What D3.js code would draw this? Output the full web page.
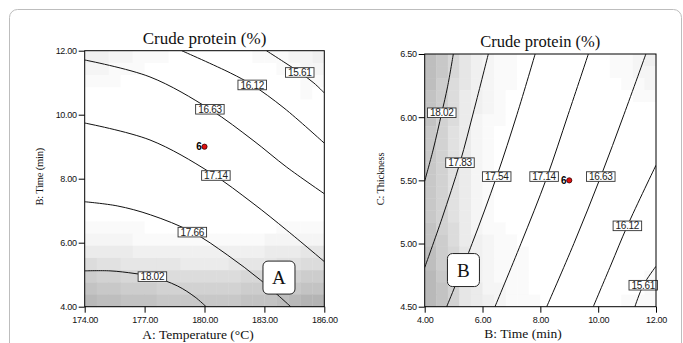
<!DOCTYPE html>
<html>
<head>
<meta charset="utf-8">
<script src="https://cdn.jsdelivr.net/npm/d3@7"></script>
<style>
  body { margin: 0; background: #fff; }
  svg { display: block; }
  .tick text { font-family: "Liberation Sans", Arial, sans-serif; font-size: 9px; fill: #111; }
  .tick line { stroke: #000; }
</style>
</head>
<body>
<svg id="chart" width="683" height="343"></svg>
<script>
// ---------- shared ----------
const chartTitle = "Crude protein (%)";
const centerRuns = "6";

// ---------- panel A: temperature vs time ----------
const tempTicks = [174, 177, 180, 183, 186];
const timeTicksA = [4, 6, 8, 10, 12];
const levelsA = ["15.61", "16.12", "16.63", "17.14", "17.66", "18.02"];
const contoursA = [
  [[183.1, 12], [183.97, 11.65], [184.77, 11.32], [185.48, 10.99], [186, 10.68]],
  [[178.86, 12], [181.31, 11.30], [182.39, 10.93], [183.98, 10.21], [186, 9.11]],
  [[174, 11.71], [177.27, 11.18], [180.27, 10.17], [182.43, 9.20], [184.12, 8.36], [186, 7.53]],
  [[174, 9.74], [177.27, 9.21], [180.27, 8.20], [182.43, 7.23], [184.12, 6.39], [186, 5.41]],
  [[174, 7.28], [175.63, 7.15], [177.30, 6.87], [179.39, 6.33], [181.14, 5.62], [182.81, 4.83], [184.32, 4.0]],
  [[174, 5.12], [175.27, 5.12], [176.47, 5.04], [177.39, 4.94], [178.64, 4.65], [179.53, 4.30], [180.08, 4.0]]
];
const labelAtA = [[184.77, 11.32], [182.39, 10.93], [180.27, 10.17], [180.57, 8.10], [179.39, 6.33], [177.39, 4.94]];
const centerA = [180, 9];
// grey level per cell, 0 (darkest) .. f (white), rows top to bottom
const shadeA = [
  "ccddeeefffffffeeeddc",
  "ddeeefffffffffffeedd",
  "eeefffffffffffffffee",
  "ffffffffffffffffffef",
  "ffffffffffffffffffff",
  "ffffffffffffffffffff",
  "ffffffffffffffffffff",
  "ffffffffffffffffffff",
  "ffffffffffffffffffff",
  "ffffffffffffffffffff",
  "ffffffffffffffffffff",
  "ffffffffffffffffffff",
  "ffffffffffffffffffff",
  "ffffffffffffffffffff",
  "eeeeefffffffffffeeee",
  "ddddeeeeeeeeeeeddddd",
  "bbbbcccccccccccbbbaa",
  "899aaaaabbbbaaaa9988",
  "56677788888887776655",
  "34455566666665554433",
  "12233344444443332100"
];

// ---------- panel B: time vs thickness ----------
const timeTicksB = [4, 6, 8, 10, 12];
const thickTicks = [4.5, 5.0, 5.5, 6.0, 6.5];
const levelsB = ["18.02", "17.83", "17.54", "17.14", "16.63", "16.12", "15.61"];
const contoursB = [
  [[4.99, 6.5], [4.79, 6.24], [4.59, 6.035], [4.29, 5.74], [4.0, 5.495]],
  [[6.20, 6.5], [5.71, 6.06], [5.22, 5.64], [4.60, 5.20], [4.0, 4.81]],
  [[7.82, 6.5], [7.19, 6.02], [6.49, 5.53], [5.64, 5.0], [4.76, 4.5]],
  [[9.66, 6.5], [8.96, 6.02], [8.22, 5.52], [7.33, 5.0], [6.43, 4.5]],
  [[11.65, 6.5], [10.89, 6.02], [10.09, 5.53], [9.16, 5.0], [8.22, 4.5]],
  [[12, 5.62], [11.01, 5.14], [10.44, 4.83], [9.83, 4.5]],
  [[12, 4.82], [11.56, 4.67], [11.27, 4.5]]
];
const labelAtB = [[4.59, 6.035], [5.22, 5.64], [6.49, 5.53], [8.13, 5.53], [10.09, 5.53], [11.01, 5.14], [11.56, 4.67]];
const centerB = [9, 5.5];
const shadeB = [
  "247acdeeffffffffeedc",
  "247acdeeffffffffeedd",
  "258acdeefffffffffeed",
  "358bcdefffffffffffee",
  "358bcdefffffffffffff",
  "368bdeefffffffffffff",
  "469bdeffffffffffffff",
  "469bdeffffffffffffff",
  "469bdeffffffffffffff",
  "469bdeffffffffffffff",
  "469bdeffffffffffffff",
  "469bdeffffffffffffff",
  "469bdeffffffffffffff",
  "469bdeffffffffffffff",
  "368bdeefffffffffffff",
  "358bcdeeffffffffffff",
  "257acdeeefffffffffff",
  "257acdeeefffffffffff",
  "146acdeeeffffffffffe",
  "136abddeeffffffffffe",
  "136abcdeeefffffffeee"
];

const svg = d3.select("#chart");

// outer rounded frame
svg.append("rect")
  .attr("x", 9.5).attr("y", 9.5).attr("width", 672).attr("height", 400)
  .attr("rx", 8).attr("fill", "#fff").attr("stroke", "#bdbdbd").attr("stroke-width", 1);

const grey = d3.scaleLinear().domain([0, 15]).range([180, 255]);

function drawPanel(cfg) {
  const g = svg.append("g");
  const x = d3.scaleLinear().domain(cfg.xDomain).range([cfg.left, cfg.right]);
  const y = d3.scaleLinear().domain(cfg.yDomain).range([cfg.bottom, cfg.top]);

  // shaded response background
  const nRows = cfg.shade.length, nCols = cfg.shade[0].length;
  const bx = d3.scaleBand().domain(d3.range(nCols)).range([cfg.left, cfg.right]);
  const by = d3.scaleBand().domain(d3.range(nRows)).range([cfg.top, cfg.bottom]);
  const cells = cfg.shade.flatMap((row, r) =>
    row.split("").map((ch, c) => ({ r, c, v: parseInt(ch, 16) })));
  g.append("g").selectAll("rect").data(cells).join("rect")
    .attr("x", d => bx(d.c)).attr("y", d => by(d.r))
    .attr("width", bx.bandwidth() + 0.4).attr("height", by.bandwidth() + 0.4)
    .attr("fill", d => { const k = Math.round(grey(d.v)); return `rgb(${k},${k},${k})`; });

  // clip for contour lines
  const clipId = "clip-" + cfg.id;
  svg.append("clipPath").attr("id", clipId).append("rect")
    .attr("x", cfg.left).attr("y", cfg.top)
    .attr("width", cfg.right - cfg.left).attr("height", cfg.bottom - cfg.top);

  const line = d3.line().x(d => x(d[0])).y(d => y(d[1])).curve(d3.curveCatmullRom.alpha(0.5));
  g.append("g").attr("clip-path", `url(#${clipId})`)
    .selectAll("path").data(cfg.contours).join("path")
    .attr("d", line).attr("fill", "none").attr("stroke", "#111").attr("stroke-width", 1);

  // contour value labels
  const lab = g.append("g").selectAll("g").data(cfg.levels.map((t, i) => ({ t, p: cfg.labelAt[i] })))
    .join("g").attr("transform", d => `translate(${x(d.p[0])},${y(d.p[1])})`);
  const rects = lab.append("rect").attr("fill", "#fff").attr("stroke", "#333").attr("stroke-width", 0.9);
  const texts = lab.append("text").text(d => d.t)
    .attr("text-anchor", "middle").attr("dy", "0.36em")
    .attr("font-family", "Liberation Sans, Arial, sans-serif").attr("font-size", "10px")
    .attr("letter-spacing", "-0.3px").attr("fill", "#222");
  texts.each(function (d) { d.w = this.getComputedTextLength(); });
  rects.attr("x", d => -d.w / 2 - 2.5).attr("y", -4.8).attr("width", d => d.w + 5).attr("height", 9.6);

  // design centre point with replicate count
  const cx = x(cfg.center[0]), cy = y(cfg.center[1]);
  g.append("text").text(centerRuns).attr("x", cx - 2.6).attr("y", cy + 3.4)
    .attr("text-anchor", "end").attr("font-family", "Liberation Sans, Arial, sans-serif")
    .attr("font-weight", "bold").attr("font-size", "10px").attr("fill", "#000");
  g.append("circle").attr("cx", cx).attr("cy", cy).attr("r", 2.6)
    .attr("fill", "#e01010").attr("stroke", "#300").attr("stroke-width", 0.8);

  // panel tag box
  const tx = x(cfg.tagAt[0]), ty = y(cfg.tagAt[1]);
  g.append("rect").attr("x", tx - 16).attr("y", ty - 16.5).attr("width", 32).attr("height", 33)
    .attr("rx", 5).attr("fill", "#fff").attr("stroke", "#222").attr("stroke-width", 1);
  g.append("text").text(cfg.tag).attr("x", tx).attr("y", ty + 6.5).attr("text-anchor", "middle")
    .attr("font-family", "Liberation Serif, Times New Roman, serif").attr("font-size", "19px").attr("fill", "#111");

  // axes
  const fmt = d3.format(".2f");
  g.append("g").attr("transform", `translate(0,${cfg.bottom})`)
    .call(d3.axisBottom(x).tickValues(cfg.xTicks).tickFormat(fmt).tickSize(6).tickPadding(4))
    .call(a => a.select(".domain").remove());
  g.append("g").attr("transform", `translate(${cfg.left},0)`)
    .call(d3.axisLeft(y).tickValues(cfg.yTicks).tickFormat(fmt).tickSize(6).tickPadding(2))
    .call(a => a.select(".domain").remove());
  g.selectAll(".tick text").attr("letter-spacing", "-0.3px");

  // plot frame
  g.append("rect").attr("x", cfg.left).attr("y", cfg.top)
    .attr("width", cfg.right - cfg.left).attr("height", cfg.bottom - cfg.top)
    .attr("fill", "none").attr("stroke", "#000").attr("stroke-width", 1);

  // titles
  const serif = "Liberation Serif, Times New Roman, serif";
  g.append("text").text(chartTitle).attr("x", (cfg.left + cfg.right) / 2).attr("y", cfg.top - 7)
    .attr("text-anchor", "middle").attr("font-family", serif).attr("font-size", cfg.titleSize + "px").attr("fill", "#111");
  g.append("text").text(cfg.xLabel).attr("x", cfg.xLabelX).attr("y", cfg.xLabelY)
    .attr("text-anchor", "middle").attr("font-family", serif).attr("font-size", "13.5px").attr("fill", "#111");
  g.append("text").text(cfg.yLabel)
    .attr("transform", `translate(${cfg.yLabelX},${cfg.yLabelY}) rotate(-90)`)
    .attr("text-anchor", "middle").attr("font-family", serif).attr("font-size", "10.5px")
    .attr("letter-spacing", "-0.2px").attr("fill", "#111");
}

drawPanel({
  id: "a", left: 84.7, right: 324.3, top: 50.7, bottom: 306.7,
  xDomain: [174, 186], yDomain: [4, 12], xTicks: tempTicks, yTicks: timeTicksA,
  shade: shadeA, contours: contoursA, levels: levelsA, labelAt: labelAtA, center: centerA,
  tag: "A", tagAt: [183.73, 4.91], titleSize: 17,
  xLabel: "A: Temperature (°C)", xLabelX: 198, xLabelY: 339,
  yLabel: "B: Time (min)", yLabelX: 43, yLabelY: 176.7
});

drawPanel({
  id: "b", left: 424.7, right: 656, top: 54, bottom: 306.7,
  xDomain: [4, 12], yDomain: [4.5, 6.5], xTicks: timeTicksB, yTicks: thickTicks,
  shade: shadeB, contours: contoursB, levels: levelsB, labelAt: labelAtB, center: centerB,
  tag: "B", tagAt: [5.34, 4.79], titleSize: 16.5,
  xLabel: "B: Time (min)", xLabelX: 523, xLabelY: 337.5,
  yLabel: "C: Thickness", yLabelX: 384, yLabelY: 179
});
</script>
</body>
</html>
